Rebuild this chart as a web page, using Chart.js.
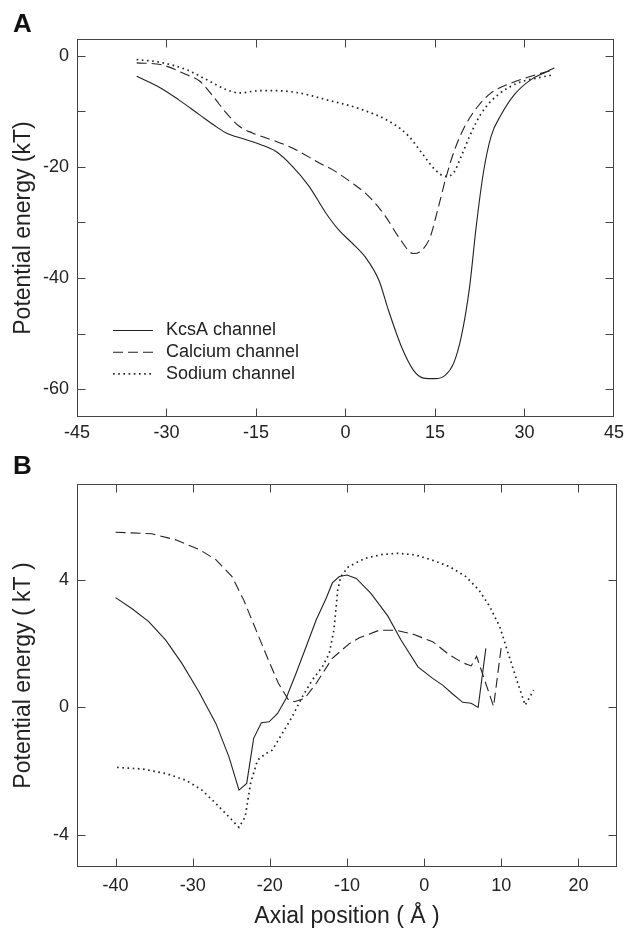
<!DOCTYPE html>
<html>
<head>
<meta charset="utf-8">
<script src="https://cdn.jsdelivr.net/npm/chart.js@4.4.1/dist/chart.umd.min.js"></script>
<style>
html,body{margin:0;padding:0;background:#fff;}
#wrap{position:relative;width:629px;height:930px;overflow:hidden;font-family:'Liberation Sans',Arial,Helvetica,sans-serif;}
.panel{position:absolute;left:13px;font-weight:bold;font-size:26px;line-height:26px;color:#111;}
canvas{position:absolute;left:0;}
</style>
</head>
<body>
<div id="wrap">
  <canvas id="cA" width="629" height="460" style="top:0px"></canvas>
  <canvas id="cB" width="629" height="470" style="top:460px"></canvas>
  <div class="panel" style="top:10px">A</div>
  <div class="panel" style="top:452px">B</div>
</div>
<script>
// ---------- Panel A data ----------
const seriesLabels = ['KcsA channel', 'Calcium channel', 'Sodium channel'];

const xTicksA = [-45, -30, -15, 0, 15, 30, 45];
const yTicksA = [0, -10, -20, -30, -40, -50, -60];
const yTickLabelsA = ['0', '', '-20', '', '-40', '', '-60'];

const kcsaXA = [-35, -31, -28, -24.5, -21.5, -20, -17, -14.5, -11.7, -8.9, -6.1, -3.3, -1.1, 1, 3.3, 5.6, 7.2, 9.4, 11.4, 13.1, 15, 16.7, 18.1, 19.4, 20.8, 21.9, 23.1, 24.4, 26.1, 28.3, 31.1, 33.3, 35];
const kcsaYA = [-3.7, -5.8, -7.9, -10.6, -12.9, -13.9, -15, -15.9, -17.2, -19.9, -23.5, -28.3, -31.4, -33.6, -36.2, -40.4, -45.8, -52.4, -56.6, -58, -58.1, -57.5, -55.4, -50.6, -41.6, -30.8, -21.1, -14.5, -10.6, -7, -4.3, -3.1, -2.2];

const calciumXA = [-35, -31, -26.7, -24.4, -22.2, -20, -17.8, -15.6, -11.7, -8.9, -4.4, -2.2, 1.1, 3.9, 6.7, 8.9, 11.4, 12.8, 14.2, 15.6, 16.9, 18.3, 20, 22.2, 24.4, 27.8, 31.1, 35];
const calciumYA = [-1.3, -1.6, -3.4, -4.6, -7.3, -10.3, -12.7, -13.9, -15.4, -16.6, -19.3, -20.5, -22.9, -25.3, -28.9, -32.6, -35.6, -35, -32.6, -27.1, -21.7, -16.9, -12.7, -9.1, -6.7, -4.9, -3.7, -2.5];

const sodiumXA = [-35, -31, -26.7, -23.3, -20, -17.8, -14.4, -11.7, -7.8, -3.3, 2.5, 7.8, 10.6, 12.8, 15, 16.7, 18.1, 19.4, 20.8, 22.8, 25.6, 28.9, 32.2, 35];
const sodiumYA = [-0.7, -1.2, -2.5, -4.3, -6.1, -6.7, -6.3, -6.3, -6.7, -7.9, -9.6, -12.1, -14.5, -17.5, -20.5, -21.7, -21.1, -18.1, -14.5, -10.3, -7, -4.9, -4, -3.4];

// ---------- Panel B data ----------
const xTicksB = [-40, -30, -20, -10, 0, 10, 20];
const yTicksB = [-4, 0, 4];

const kcsaXB = [-40, -37.9, -35.7, -33.5, -31.4, -29.2, -27, -25.3, -24, -23, -22.1, -21.1, -20.1, -19, -17.9, -16.6, -15.3, -14, -12.7, -11.9, -11, -10, -8.8, -6.9, -4.7, -3, -0.8, 1.1, 2.4, 3.7, 5, 6.1, 7, 8];
const kcsaYB = [3.44, 3.1, 2.69, 2.11, 1.38, 0.49, -0.5, -1.55, -2.59, -2.38, -0.97, -0.48, -0.45, -0.19, 0.28, 1.07, 1.9, 2.74, 3.42, 3.9, 4.1, 4.15, 4.04, 3.57, 2.86, 2.11, 1.27, 0.91, 0.7, 0.42, 0.16, 0.13, 0, 1.85];

const calciumXB = [-40, -35.3, -32.2, -29.1, -27, -24.9, -23.4, -21.8, -20.2, -18.9, -17.6, -16.8, -15.5, -14, -11.9, -9.7, -8.4, -5.8, -3.7, -1.5, 1.1, 3.3, 5, 6.1, 6.8, 9, 10];
const calciumYB = [5.49, 5.44, 5.25, 4.94, 4.63, 4.1, 3.37, 2.43, 1.49, 0.76, 0.24, 0.18, 0.28, 0.75, 1.54, 2.0, 2.18, 2.42, 2.42, 2.3, 2.06, 1.64, 1.4, 1.3, 1.6, 0.03, 1.9];

const sodiumXB = [-39.8, -36.5, -33.5, -30.9, -28.8, -27, -25.3, -24, -23.2, -22.5, -21.6, -20.5, -19.7, -18.4, -17.1, -15.8, -14.5, -13.2, -12.3, -11.7, -11.2, -10.8, -9.8, -7.7, -5.5, -3.4, -1.2, 1, 3.3, 5.4, 7.1, 8.5, 9.8, 10.9, 12, 13.1, 14.2];
const sodiumYB = [-1.88, -1.93, -2.07, -2.28, -2.59, -3.01, -3.43, -3.76, -3.43, -2.38, -1.65, -1.44, -1.34, -0.82, -0.29, 0.33, 0.86, 1.27, 1.69, 2.42, 3.68, 4.1, 4.41, 4.67, 4.79, 4.83, 4.78, 4.62, 4.41, 4.1, 3.68, 3.16, 2.53, 1.69, 0.86, 0.07, 0.54];

// ---------- helpers ----------
const FONT = "'Liberation Sans', Arial, Helvetica, sans-serif";
Chart.defaults.font.family = FONT;
Chart.defaults.color = '#222';

const pts = (xs, ys) => xs.map((x, i) => ({x: x, y: ys[i]}));

const lineStyles = [
  {borderDash: [], borderWidth: 1.1},
  {borderDash: [10, 5], borderWidth: 1.1},
  {borderDash: [1.6, 3.6], borderWidth: 1.7}
];

function makeDatasets(pairs, smooth) {
  return pairs.map((p, i) => ({
    label: seriesLabels[i],
    data: pts(p[0], p[1]),
    borderColor: '#222',
    backgroundColor: '#222',
    borderWidth: lineStyles[i].borderWidth,
    borderDash: lineStyles[i].borderDash,
    pointRadius: 0,
    cubicInterpolationMode: smooth ? 'monotone' : 'default',
    tension: 0,
    fill: false
  }));
}

const frameTicks = {
  id: 'frameTicks',
  afterDraw(chart) {
    const {ctx, chartArea: a, scales} = chart;
    const L = Math.round(a.left) + 0.5, R = Math.round(a.right) - 0.5;
    const T = Math.round(a.top) + 0.5, B = Math.round(a.bottom) - 0.5;
    const len = 8;
    const clamp = (v, lo, hi) => Math.min(hi, Math.max(lo, v));
    ctx.save();
    ctx.strokeStyle = '#444';
    ctx.lineWidth = 1;
    ctx.setLineDash([]);
    ctx.beginPath();
    scales.x.ticks.forEach(t => {
      const px = clamp(Math.round(scales.x.getPixelForValue(t.value)) + 0.5, L, R);
      ctx.moveTo(px, B); ctx.lineTo(px, B - len);
      ctx.moveTo(px, T); ctx.lineTo(px, T + len);
    });
    scales.y.ticks.forEach(t => {
      const py = clamp(Math.round(scales.y.getPixelForValue(t.value)) + 0.5, T, B);
      ctx.moveTo(L, py); ctx.lineTo(L + len, py);
      ctx.moveTo(R, py); ctx.lineTo(R - len, py);
    });
    ctx.stroke();
    ctx.strokeRect(L, T, R - L, B - T);
    ctx.restore();
  }
};

const legendInside = {
  id: 'legendInside',
  afterDraw(chart, args, opts) {
    if (!opts || !opts.show) return;
    const {ctx} = chart;
    chart.data.datasets.forEach((ds, i) => {
      const y = opts.y0 + i * opts.dy;
      ctx.save();
      ctx.strokeStyle = ds.borderColor;
      ctx.lineWidth = ds.borderWidth;
      ctx.setLineDash(ds.borderDash || []);
      ctx.beginPath();
      ctx.moveTo(opts.x0, y + 0.5);
      ctx.lineTo(opts.x1, y + 0.5);
      ctx.stroke();
      ctx.setLineDash([]);
      ctx.fillStyle = '#222';
      ctx.font = '18px ' + FONT;
      ctx.textBaseline = 'middle';
      ctx.textAlign = 'left';
      ctx.fillText(ds.label, opts.xt, y + 0.5);
      ctx.restore();
    });
  }
};

function makeChart(id, cfg) {
  return new Chart(document.getElementById(id), {
    type: 'line',
    data: {datasets: makeDatasets(cfg.series, cfg.smooth)},
    plugins: [frameTicks, legendInside],
    options: {
      responsive: false,
      animation: false,
      devicePixelRatio: 1,
      layout: {padding: cfg.padding},
      plugins: {
        legend: {display: false},
        tooltip: {enabled: false},
        legendInside: cfg.legend
      },
      scales: {
        x: {
          type: 'linear',
          min: cfg.xMin, max: cfg.xMax,
          afterBuildTicks: s => { s.ticks = cfg.xTicks.map(v => ({value: v})); },
          afterFit: s => { s.height = cfg.xHeight; },
          grid: {display: false, drawTicks: false},
          border: {display: false},
          ticks: {
            autoSkip: false, maxRotation: 0, padding: cfg.xPad,
            font: {size: 18}, color: '#222',
            callback: v => String(v)
          },
          title: cfg.xTitle ? {display: true, text: cfg.xTitle, font: {size: 23}, color: '#222', padding: {top: 0, bottom: 0}} : {display: false}
        },
        y: {
          type: 'linear',
          min: cfg.yMin, max: cfg.yMax,
          afterBuildTicks: s => { s.ticks = cfg.yTicks.map(v => ({value: v})); },
          afterFit: s => { s.width = cfg.yWidth; },
          grid: {display: false, drawTicks: false},
          border: {display: false},
          ticks: {
            autoSkip: false, padding: 8,
            font: {size: 18}, color: '#222',
            callback: v => cfg.yLabels[cfg.yTicks.indexOf(v)]
          },
          title: {display: true, text: cfg.yTitle, font: {size: 23}, color: '#222', padding: {top: 10, bottom: 0}}
        }
      }
    }
  });
}

makeChart('cA', {
  series: [[kcsaXA, kcsaYA], [calciumXA, calciumYA], [sodiumXA, sodiumYA]],
  smooth: true,
  padding: {top: 39, right: 12, left: 0, bottom: 0},
  xMin: -45, xMax: 45, yMin: -65, yMax: 3,
  xTicks: xTicksA, yTicks: yTicksA, yLabels: yTickLabelsA,
  xHeight: 43, yWidth: 77, xPad: 5,
  yTitle: 'Potential energy (kT)', xTitle: null,
  legend: {show: true, x0: 113, x1: 153, xt: 166, y0: 330, dy: 21.7}
});

makeChart('cB', {
  series: [[kcsaXB, kcsaYB], [calciumXB, calciumYB], [sodiumXB, sodiumYB]],
  smooth: false,
  padding: {top: 24, right: 12, left: 0, bottom: 0},
  xMin: -45, xMax: 25, yMin: -5, yMax: 7,
  xTicks: xTicksB, yTicks: yTicksB, yLabels: yTicksB.map(String),
  xHeight: 63, yWidth: 77, xPad: 8,
  yTitle: 'Potential energy ( kT )', xTitle: 'Axial position ( Å )',
  legend: {show: false}
});
</script>
</body>
</html>
